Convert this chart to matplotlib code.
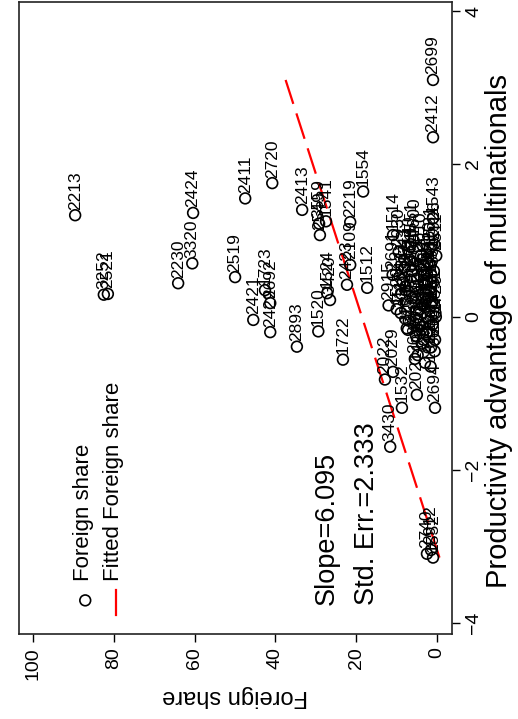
import matplotlib
matplotlib.use("Agg")
import matplotlib.pyplot as plt
import numpy as np

plt.rcParams['font.family'] = ['Liberation Sans', 'DejaVu Sans']

# industry codes, foreign share (%), productivity advantage of multinationals
codes = ["2213", "3252", "2521", "2230", "3320", "2424", "2519", "2411", "2720",
         "2413", "3559", "1541", "2219", "1554", "1543", "1514", "2109", "1512",
         "2423", "2549", "1524", "3420", "1520", "1722", "2893", "2421", "2429",
         "1723", "2692", "2029", "2022", "1532", "2021", "2694", "3430", "3150",
         "2740", "2912", "1552", "2699", "2412",
         # dense group of low foreign share industries
         "1520", "1551", "2010", "1810", "3610", "2811", "2929", "1533", "2899",
         "3110", "1549", "2101", "2222", "2610", "2691", "2919", "3190", "2102",
         "1711", "1911", "2520", "1729", "2930", "3140", "2813", "1531", "3699",
         "2221", "2914", "2695", "3691", "1542", "2710", "3000", "2891", "1920",
         "3120", "2211", "2511", "2892", "1600", "3313", "2926", "3592", "1721",
         "2915", "3210", "1912", "2693"]
foreign_share = [89.6, 82.5, 81.5, 64.1, 60.6, 60.4, 50.0, 47.5, 40.8,
                 33.4, 29.2, 27.5, 21.5, 18.3, 1.0, 10.9, 21.5, 17.3,
                 22.3, 29.0, 27.2, 26.5, 29.4, 23.3, 34.7, 45.5, 41.3,
                 42.6, 41.3, 10.9, 12.9, 8.7, 5.0, 0.5, 11.6, 7.2,
                 2.5, 1.5, 1.0, 1.0, 1.0,
                 10.0, 6.5, 4.0, 2.0, 0.8, 8.5, 5.5, 3.0, 1.2,
                 9.0, 7.0, 4.5, 2.5, 0.5, 11.0, 6.0, 3.5, 1.5,
                 8.0, 5.0, 2.0, 0.3, 9.5, 6.8, 4.2, 1.8, 0.6,
                 7.5, 5.2, 3.2, 1.0, 8.8, 6.2, 2.8, 0.4, 4.8,
                 3.8, 1.4, 0.2, 7.8, 5.8, 2.2, 0.7, 3.4, 1.1,
                 12.0, 3.0, 1.6, 5.5]
productivity = [1.33, 0.29, 0.30, 0.44, 0.70, 1.36, 0.52, 1.55, 1.75,
                1.40, 1.22, 1.25, 1.24, 1.64, 1.29, 1.07, 0.68, 0.38,
                0.42, 1.07, 0.31, 0.22, -0.19, -0.56, -0.39, -0.04, -0.20,
                0.35, 0.18, -0.72, -0.82, -1.19, -1.02, -1.19, -1.70, -0.17,
                -3.10, -3.05, -3.15, 3.10, 2.35,
                0.10, 0.95, 0.80, 0.70, 0.60, 0.45, 0.40, 0.30, 0.20,
                0.05, -0.05, -0.10, -0.20, -0.30, 0.55, 0.25, 0.15, -0.40,
                0.65, 0.50, 0.35, 0.00, 0.85, 0.75, 0.10, 0.90, -0.45,
                -0.15, -0.25, 0.55, 0.45, 0.30, 0.60, 0.20, 0.05, -0.50,
                -0.35, 0.15, 0.80, 0.40, 1.00, 0.25, 0.95, -0.30, -0.10,
                0.15, -0.60, -0.65, -0.55]

slope = 6.095
std_err = 2.333
intercept = 18.6
fit_range = [min(productivity), max(productivity)]

fig = plt.figure(figsize=(5.18, 7.19), dpi=100)
ax = fig.add_axes([19 / 518, 1 - 634 / 719, (452 - 19) / 518, (634 - 2) / 719])

ax.scatter(foreign_share, productivity, s=60, facecolors='none',
           edgecolors='black', linewidths=1.2, zorder=3)
for c, fs, pr in zip(codes, foreign_share, productivity):
    ax.annotate(c, (fs, pr), xytext=(0, 4), textcoords='offset points',
                rotation=90, ha='center', va='bottom', fontsize=12.5)

fit_p = np.array(fit_range)
ax.plot(intercept + slope * fit_p, fit_p, color='red', lw=1.6,
        dashes=(12, 4.5), zorder=2)

ax.set_xlim(103.5, -3.7)
ax.set_ylim(-4.15, 4.12)
ax.set_xticks([100, 80, 60, 40, 20, 0])
ax.set_yticks([-4, -2, 0, 2, 4])
ax.yaxis.tick_right()
ax.yaxis.set_label_position('right')
ax.tick_params(axis='x', labelrotation=90, labelsize=14, length=6, width=1)
ax.tick_params(axis='y', labelrotation=90, labelsize=14, length=6, width=1)
for lab in ax.get_yticklabels():
    lab.set_va('center')
ax.set_xlabel('Foreign share', fontsize=17, rotation=180)
ax.set_ylabel('Productivity advantage of multinationals', fontsize=21,
              rotation=90, va='center')
ax.yaxis.set_label_coords(1.108, 0.48)
for s in ax.spines.values():
    s.set_linewidth(1.2)
    s.set_color('#222222')

# legend drawn as rotated rows inside the plot area
ax.scatter([87.1], [-3.71], s=60, facecolors='none', edgecolors='black',
           linewidths=1.2)
ax.text(87.6, -3.46, 'Foreign share', rotation=90, ha='center', va='bottom',
        fontsize=16)
ax.plot([79.5, 79.5], [-3.58, -3.90], color='red', lw=1.6)
ax.text(80.0, -3.46, 'Fitted Foreign share', rotation=90, ha='center',
        va='bottom', fontsize=16)

ax.text(27.2, -3.77, f'Slope={slope}', rotation=90, ha='center', va='bottom',
        fontsize=19.5)
ax.text(17.3, -3.77, f'Std. Err.={std_err}', rotation=90, ha='center',
        va='bottom', fontsize=19.5)

fig.savefig('out.png', dpi=100)
